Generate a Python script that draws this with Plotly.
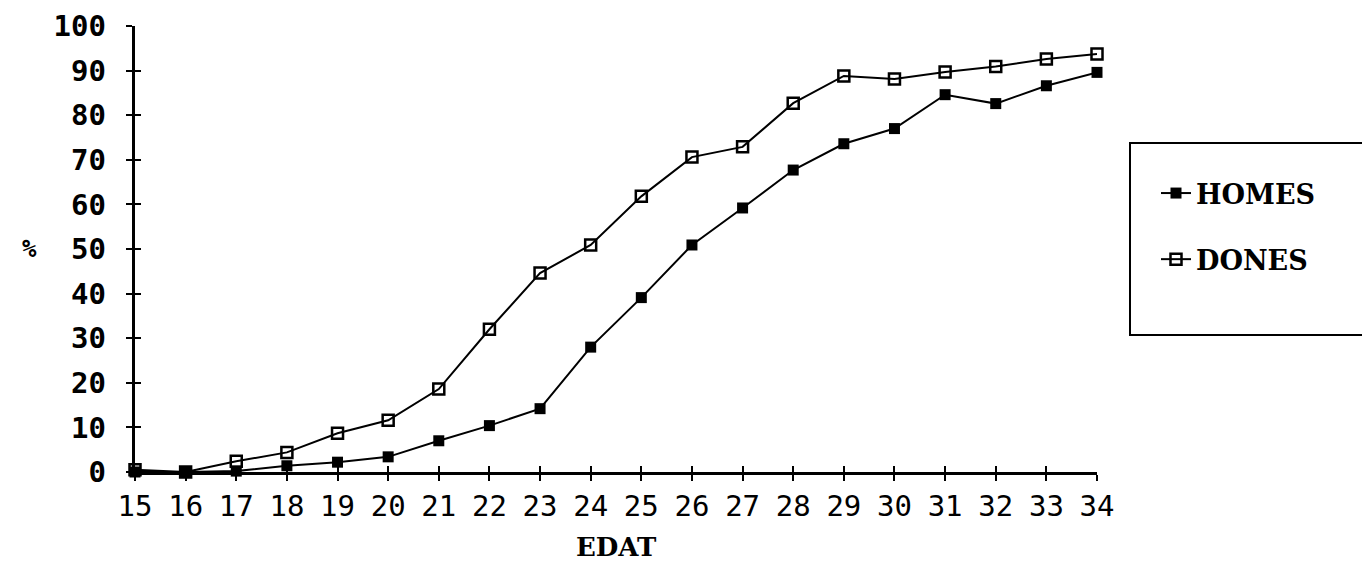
import plotly.graph_objects as go

ages = list(range(15, 35))
homes = [0, 0, 0.2, 1.4, 2.2, 3.4, 7.0, 10.4, 14.2, 28.0, 39.1, 50.9, 59.2, 67.7, 73.6, 77.0, 84.6, 82.6, 86.6, 89.6]
dones = [0.5, 0, 2.4, 4.4, 8.7, 11.6, 18.6, 32.0, 44.6, 50.9, 61.8, 70.6, 72.9, 82.7, 88.8, 88.1, 89.7, 90.9, 92.6, 93.7]
y_ticks = list(range(0, 101, 10))
series_names = ["HOMES", "DONES"]
x_title = "EDAT"
y_title = "%"

W, H = 1370, 563
L, R, T, B = 127, 281, 18, 99
pw = W - L - R
ph = H - T - B

def px_x(p):
    return (p - L) / pw

def px_y(p):
    return (H - B - p) / ph

pad = "<span style='font-size:12px'>\u00a0\u00a0</span>"

fig = go.Figure()
fig.add_trace(go.Scatter(
    x=ages, y=homes, name=series_names[0], mode="lines+markers",
    line=dict(color="black", width=2),
    marker=dict(symbol="square", size=11, color="black"),
    cliponaxis=False, legendgroup="a", xaxis="x", yaxis="y"))
fig.add_trace(go.Scatter(
    x=ages, y=dones, name=series_names[1], mode="lines+markers",
    line=dict(color="black", width=2),
    marker=dict(symbol="square-open", size=11, color="black", line=dict(width=2.5)),
    cliponaxis=False, legendgroup="b", xaxis="x2", yaxis="y2"))

axis_common = dict(showline=True, linecolor="black", linewidth=2.5, showgrid=False,
                   zeroline=False, tickcolor="black", tickwidth=2, ticklen=6)

fig.update_layout(
    width=W, height=H,
    margin=dict(l=L, r=R, t=T, b=B, autoexpand=False),
    paper_bgcolor="white", plot_bgcolor="white",
    xaxis=dict(range=[15, 34], tickmode="array", tickvals=ages,
               ticktext=[str(a) for a in ages], ticks="outside",
               tickfont=dict(family="DejaVu Sans Mono", size=29, color="black"),
               **axis_common),
    yaxis=dict(range=[0, 100], tickmode="array", tickvals=y_ticks,
               ticktext=[str(v) + pad for v in y_ticks], ticks="outside",
               tickfont=dict(family="DejaVu Sans Mono", size=29, color="black", weight="bold"),
               **axis_common),
    xaxis2=dict(range=[15, 34], overlaying="x", anchor="y2", tickmode="array", tickvals=ages,
                ticks="inside", showticklabels=False, **axis_common),
    yaxis2=dict(range=[0, 100], overlaying="y", anchor="x2", tickmode="array", tickvals=y_ticks,
                ticks="inside", showticklabels=False, **axis_common),
    showlegend=True,
    legend=dict(x=px_x(1148), y=px_y(161), xanchor="left", yanchor="top",
                bgcolor="rgba(0,0,0,0)", borderwidth=0,
                font=dict(family="DejaVu Serif", size=27, color="black", weight="bold"),
                tracegroupgap=28, traceorder="grouped", itemwidth=30),
    shapes=[dict(type="rect", xref="paper", yref="paper",
                 x0=px_x(1122), x1=px_x(1367), y0=px_y(327), y1=px_y(135),
                 line=dict(color="black", width=2))],
    annotations=[
        dict(text=y_title, xref="paper", yref="y", x=0, y=50, xshift=-(L - 21),
             showarrow=False, xanchor="center", yanchor="middle",
             font=dict(family="DejaVu Sans Mono", size=24, color="black", weight="bold")),
        dict(text=x_title, xref="x", yref="paper", x=24.5, y=px_y(539),
             showarrow=False, xanchor="center", yanchor="middle",
             font=dict(family="DejaVu Serif", size=26, color="black", weight="bold")),
    ],
)

fig.write_html("out.html")
